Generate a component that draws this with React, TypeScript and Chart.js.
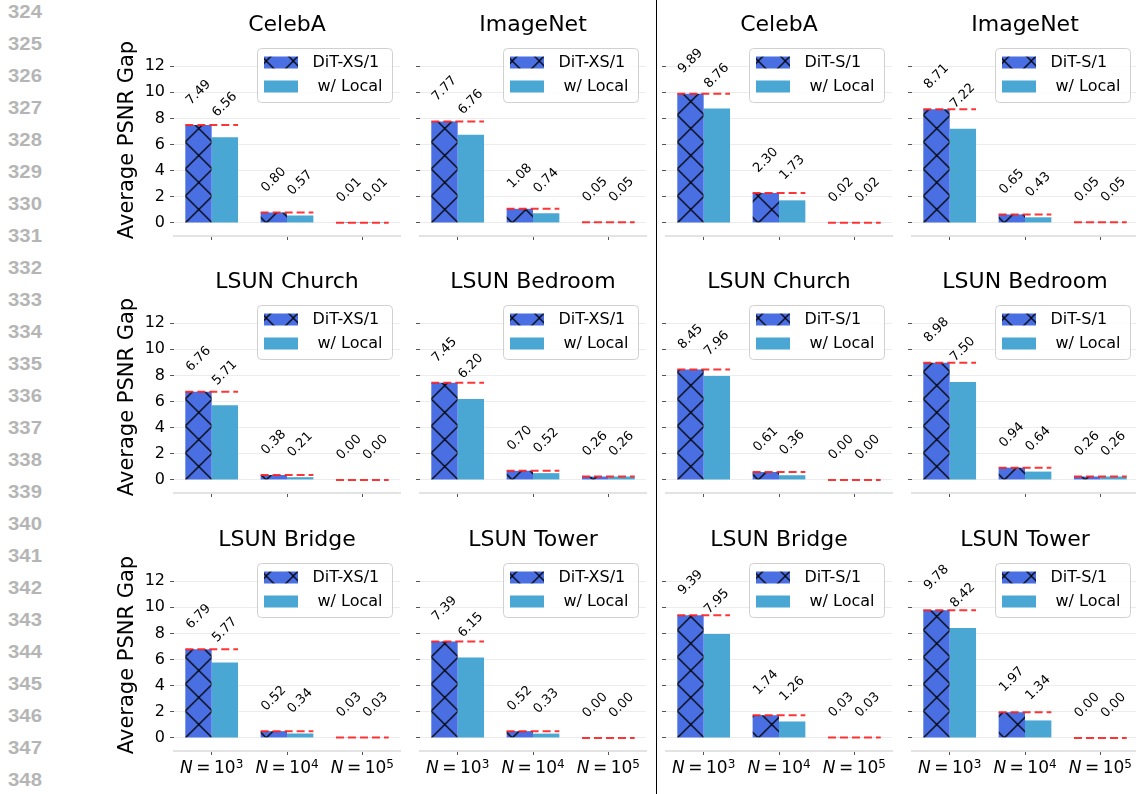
import React, { useEffect, useRef } from 'react';
import { Chart, registerables } from 'chart.js';

Chart.register(...registerables);

// ---------------- data ----------------
const CATEGORIES = ['N=10^3', 'N=10^4', 'N=10^5'];
const X_BASE = '10';
const X_EXP = ['3', '4', '5'];
const Y_TICKS = [0, 2, 4, 6, 8, 10, 12];
const Y_MIN = -1;
const Y_MAX = 13.7;
const Y_LABEL = 'Average PSNR Gap';
const LOCAL_LABEL = 'w/ Local';

const CELEBA_XS = [7.49, 0.8, 0.01];
const CELEBA_XS_LOCAL = [6.56, 0.57, 0.01];
const IMAGENET_XS = [7.77, 1.08, 0.05];
const IMAGENET_XS_LOCAL = [6.76, 0.74, 0.05];
const CELEBA_S = [9.89, 2.3, 0.02];
const CELEBA_S_LOCAL = [8.76, 1.73, 0.02];
const IMAGENET_S = [8.71, 0.65, 0.05];
const IMAGENET_S_LOCAL = [7.22, 0.43, 0.05];

const CHURCH_XS = [6.76, 0.38, 0.0];
const CHURCH_XS_LOCAL = [5.71, 0.21, 0.0];
const BEDROOM_XS = [7.45, 0.7, 0.26];
const BEDROOM_XS_LOCAL = [6.2, 0.52, 0.26];
const CHURCH_S = [8.45, 0.61, 0.0];
const CHURCH_S_LOCAL = [7.96, 0.36, 0.0];
const BEDROOM_S = [8.98, 0.94, 0.26];
const BEDROOM_S_LOCAL = [7.5, 0.64, 0.26];

const BRIDGE_XS = [6.79, 0.52, 0.03];
const BRIDGE_XS_LOCAL = [5.77, 0.34, 0.03];
const TOWER_XS = [7.39, 0.52, 0.0];
const TOWER_XS_LOCAL = [6.15, 0.33, 0.0];
const BRIDGE_S = [9.39, 1.74, 0.03];
const BRIDGE_S_LOCAL = [7.95, 1.26, 0.03];
const TOWER_S = [9.78, 1.97, 0.0];
const TOWER_S_LOCAL = [8.42, 1.34, 0.0];

const PANELS = [
  { title: 'CelebA', model: 'DiT-XS/1', base: CELEBA_XS, local: CELEBA_XS_LOCAL },
  { title: 'ImageNet', model: 'DiT-XS/1', base: IMAGENET_XS, local: IMAGENET_XS_LOCAL },
  { title: 'CelebA', model: 'DiT-S/1', base: CELEBA_S, local: CELEBA_S_LOCAL },
  { title: 'ImageNet', model: 'DiT-S/1', base: IMAGENET_S, local: IMAGENET_S_LOCAL },
  { title: 'LSUN Church', model: 'DiT-XS/1', base: CHURCH_XS, local: CHURCH_XS_LOCAL },
  { title: 'LSUN Bedroom', model: 'DiT-XS/1', base: BEDROOM_XS, local: BEDROOM_XS_LOCAL },
  { title: 'LSUN Church', model: 'DiT-S/1', base: CHURCH_S, local: CHURCH_S_LOCAL },
  { title: 'LSUN Bedroom', model: 'DiT-S/1', base: BEDROOM_S, local: BEDROOM_S_LOCAL },
  { title: 'LSUN Bridge', model: 'DiT-XS/1', base: BRIDGE_XS, local: BRIDGE_XS_LOCAL },
  { title: 'LSUN Tower', model: 'DiT-XS/1', base: TOWER_XS, local: TOWER_XS_LOCAL },
  { title: 'LSUN Bridge', model: 'DiT-S/1', base: BRIDGE_S, local: BRIDGE_S_LOCAL },
  { title: 'LSUN Tower', model: 'DiT-S/1', base: TOWER_S, local: TOWER_S_LOCAL },
];

const LINE_NUMBERS = [
  324, 325, 326, 327, 328, 329, 330, 331, 332, 333, 334, 335, 336,
  337, 338, 339, 340, 341, 342, 343, 344, 345, 346, 347, 348,
];

// ---------------- style / layout ----------------
const FONT = '"DejaVu Sans", Verdana, sans-serif';
const BLUE = '#4a6fe3';
const LIGHT = '#4aa7d3';
const AX_LEFT = [174, 420, 666, 912];
const AX_TOP = [44, 301, 559];
const AX_W = 226;
const AX_H = 192;
const Y_AXIS_W = 70;
const TITLE_H = 44;
const X_AXIS_H = 40;
const PAD_R = 10;
const CANVAS_W = Y_AXIS_W + AX_W + PAD_R;
const CANVAS_H = TITLE_H + AX_H + X_AXIS_H;

function makeHatch(ctx: CanvasRenderingContext2D): CanvasPattern {
  const s = 27;
  const c = document.createElement('canvas');
  c.width = s;
  c.height = s;
  const g = c.getContext('2d')!;
  g.fillStyle = BLUE;
  g.fillRect(0, 0, s, s);
  g.strokeStyle = '#000';
  g.lineWidth = 1.25;
  g.beginPath();
  for (const d of [-s, 0, s]) {
    g.moveTo(d, 0);
    g.lineTo(d + s, s);
    g.moveTo(d + s, 0);
    g.lineTo(d, s);
  }
  g.stroke();
  return ctx.createPattern(c, 'repeat')!;
}

type PanelDef = (typeof PANELS)[number];

function Panel({ p, row, col }: { p: PanelDef; row: number; col: number }) {
  const ref = useRef<HTMLCanvasElement>(null);
  useEffect(() => {
    const canvas = ref.current!;
    const ctx0 = canvas.getContext('2d')!;
    const hatch = makeHatch(ctx0);
    const showY = col === 0;
    const showX = row === 2;
    const LBL = 13;

    const decor = {
      id: 'decor',
      beforeDatasetsDraw(chart: any) {
        const m0 = chart.getDatasetMeta(0);
        const b0 = m0.data[0];
        const left = b0.x - b0.width / 2;
        const y0 = chart.scales.y.getPixelForValue(0);
        if ((hatch as any).setTransform) {
          hatch.setTransform(new DOMMatrix().translate(left, y0));
        }
      },
      afterDatasetsDraw(chart: any) {
        const ctx = chart.ctx as CanvasRenderingContext2D;
        const ys = chart.scales.y;
        const m0 = chart.getDatasetMeta(0);
        const m1 = chart.getDatasetMeta(1);
        // red dashed reference lines
        ctx.save();
        ctx.strokeStyle = 'rgba(255,30,30,0.9)';
        ctx.lineWidth = 2;
        ctx.setLineDash([8, 4]);
        p.base.forEach((v, i) => {
          const a = m0.data[i];
          const b = m1.data[i];
          const l = a.x - a.width / 2;
          const r = b.x + b.width / 2;
          const py = ys.getPixelForValue(v);
          ctx.beginPath();
          ctx.moveTo(l, py);
          ctx.lineTo(r, py);
          ctx.stroke();
        });
        ctx.restore();
        // value labels
        ctx.save();
        ctx.font = `${LBL}px ${FONT}`;
        ctx.fillStyle = '#000';
        ctx.textAlign = 'center';
        ctx.textBaseline = 'middle';
        [m0, m1].forEach((m: any, di: number) => {
          const vals = di === 0 ? p.base : p.local;
          m.data.forEach((el: any, i: number) => {
            const v = vals[i];
            const txt = v.toFixed(2);
            const w = ctx.measureText(txt).width;
            const half = (w + 0.73 * LBL) / (2 * Math.SQRT2);
            const cx = el.x;
            const cy = ys.getPixelForValue(v) - 19 - half;
            ctx.save();
            ctx.translate(cx, cy);
            ctx.rotate(-Math.PI / 4);
            ctx.fillText(txt, 0, 0);
            ctx.restore();
          });
        });
        ctx.restore();
      },
      afterDraw(chart: any) {
        const ctx = chart.ctx as CanvasRenderingContext2D;
        const ca = chart.chartArea;
        // legend
        const bw = 135;
        const bh = 54;
        const bx = Math.round(ca.right - 8 - bw) + 0.5;
        const by = Math.round(ca.top + 4) + 0.5;
        ctx.save();
        ctx.beginPath();
        (ctx as any).roundRect(bx, by, bw, bh, 4);
        ctx.fillStyle = 'rgba(255,255,255,0.85)';
        ctx.fill();
        ctx.strokeStyle = '#d0d0d0';
        ctx.lineWidth = 1;
        ctx.stroke();
        ctx.fillStyle = hatch;
        ctx.fillRect(bx + 6.5, by + 8, 34, 12);
        ctx.fillStyle = LIGHT;
        ctx.fillRect(bx + 6.5, by + 32, 34, 12);
        ctx.fillStyle = '#000';
        ctx.font = `16px ${FONT}`;
        ctx.textAlign = 'left';
        ctx.textBaseline = 'middle';
        ctx.fillText(p.model, bx + 55, by + 14.5);
        ctx.fillText(LOCAL_LABEL, bx + 60, by + 38.5);
        ctx.restore();

        // x tick labels (math style)
        if (showX) {
          const xs = chart.scales.x;
          const baseY = ca.bottom + 22;
          ctx.save();
          ctx.fillStyle = '#000';
          ctx.textAlign = 'left';
          ctx.textBaseline = 'alphabetic';
          const fI = `italic 17px ${FONT}`;
          const fR = `17px ${FONT}`;
          const fS = `12px ${FONT}`;
          const gap = 3.5;
          X_EXP.forEach((e, i) => {
            const cx = xs.getPixelForValue(i);
            ctx.font = fI;
            const wN = ctx.measureText('N').width;
            ctx.font = fR;
            const wEq = ctx.measureText('=').width;
            const w10 = ctx.measureText(X_BASE).width;
            ctx.font = fS;
            const wE = ctx.measureText(e).width;
            const total = wN + gap + wEq + gap + w10 + wE;
            let x = cx - total / 2;
            ctx.font = fI;
            ctx.fillText('N', x, baseY);
            x += wN + gap;
            ctx.font = fR;
            ctx.fillText('=', x, baseY);
            x += wEq + gap;
            ctx.fillText(X_BASE, x, baseY);
            x += w10;
            ctx.font = fS;
            ctx.fillText(e, x, baseY - 5.5);
          });
          ctx.restore();
        }
      },
    };

    const chart = new Chart(canvas, {
      type: 'bar',
      data: {
        labels: CATEGORIES,
        datasets: [
          {
            label: p.model,
            data: p.base,
            backgroundColor: hatch as any,
            borderWidth: 0,
            categoryPercentage: 0.7,
            barPercentage: 1,
          },
          {
            label: LOCAL_LABEL,
            data: p.local,
            backgroundColor: LIGHT,
            borderWidth: 0,
            categoryPercentage: 0.7,
            barPercentage: 1,
          },
        ],
      },
      options: {
        animation: false,
        responsive: false,
        devicePixelRatio: 1,
        layout: { padding: { left: 0, right: PAD_R, top: 0, bottom: 0 } },
        plugins: {
          legend: { display: false },
          tooltip: { enabled: false },
          title: {
            display: true,
            fullSize: false,
            text: p.title,
            color: '#000',
            font: { family: FONT, size: 22, weight: 'normal' as any },
            padding: { top: 12.3, bottom: 5.3 },
          },
        },
        scales: {
          x: {
            grid: {
              offset: false,
              drawOnChartArea: false,
              drawTicks: true,
              tickLength: 4,
              tickColor: '#555',
              tickWidth: 1,
            },
            border: { display: true, color: '#e3e3e3', width: 2 },
            ticks: { display: false },
            afterFit: (s: any) => {
              s.height = X_AXIS_H;
            },
          },
          y: {
            min: Y_MIN,
            max: Y_MAX,
            afterBuildTicks: (s: any) => {
              s.ticks = Y_TICKS.map((v) => ({ value: v }));
            },
            grid: {
              color: '#ececec',
              lineWidth: 1,
              drawTicks: true,
              tickLength: 4,
              tickColor: '#555',
              tickWidth: 1,
            },
            border: { display: false },
            ticks: {
              display: showY,
              color: '#000',
              padding: 5,
              font: { family: FONT, size: 16 },
            },
            title: {
              display: showY,
              text: Y_LABEL,
              color: '#000',
              font: { family: FONT, size: 21 },
              padding: { top: 11.4, bottom: 0 },
            },
            afterFit: (s: any) => {
              s.width = Y_AXIS_W;
            },
          },
        },
      },
      plugins: [decor],
    });
    return () => chart.destroy();
  }, []);
  return (
    <canvas
      ref={ref}
      width={CANVAS_W}
      height={CANVAS_H}
      style={{
        position: 'absolute',
        left: AX_LEFT[col] - Y_AXIS_W,
        top: AX_TOP[row] - TITLE_H,
        width: CANVAS_W,
        height: CANVAS_H,
      }}
    />
  );
}

export default function App() {
  const lnSize = 18.5;
  return (
    <div
      style={{
        position: 'relative',
        width: 1136,
        height: 794,
        overflow: 'hidden',
        background: '#fff',
      }}
    >
      <style>{'html,body{margin:0;padding:0;overflow:hidden;background:#fff}'}</style>
      {LINE_NUMBERS.map((n, i) => (
        <div
          key={n}
          style={{
            position: 'absolute',
            left: 8,
            top: 12.5 + i * 32 - lnSize * 0.49,
            fontFamily: '"Liberation Sans", Arial, sans-serif',
            fontWeight: 'bold',
            fontSize: lnSize,
            lineHeight: `${lnSize}px`,
            color: '#b5b5b5',
            transform: 'scaleX(1.1)',
            transformOrigin: 'left center',
          }}
        >
          {n}
        </div>
      ))}
      <div
        style={{
          position: 'absolute',
          left: 655.5,
          top: 0,
          width: 1.2,
          height: 794,
          background: '#000',
        }}
      />
      {PANELS.map((p, k) => (
        <Panel key={k} p={p} row={Math.floor(k / 4)} col={k % 4} />
      ))}
    </div>
  );
}
